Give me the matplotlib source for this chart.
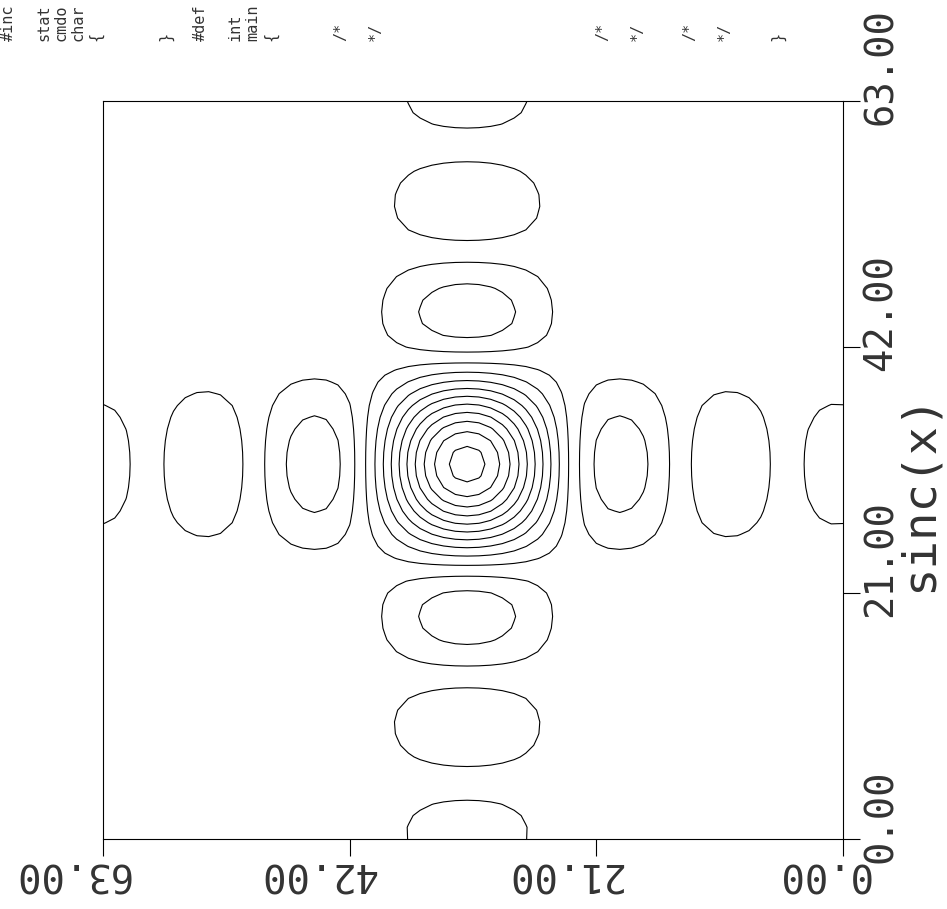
import matplotlib
matplotlib.use('Agg')
import matplotlib.pyplot as plt
import matplotlib.transforms as mtransforms
import numpy as np

# grid and function (sinc(x)*sinc(y) sampled on a 64x64 grid)
n_points = 64
center = 32
arg_scale = 0.347
levels = [-0.15, -0.05, 0.05, 0.15, 0.25, 0.35, 0.45, 0.55, 0.65, 0.75, 0.85, 0.95]

tick_values = [0, 21, 42, 63]
tick_labels = ['0.00', '21.00', '42.00', '63.00']
title = 'sinc(x)'

# fragments of the program listing printed along the top edge
code_lines = ['#inc', '', 'stat', 'cmdo', 'char', '{', '', '', '', '}', '', '#def', '',
              'int', 'main', '{', '', '', '', '/*', '', '*/', '', '', '', '', '', '', '',
              '', '', '', '', '', '/*', '', '*/', '', '', '/*', '', '*/', '', '', '}']


def sinc(u):
    out = np.ones_like(u)
    nz = u != 0
    out[nz] = np.sin(u[nz]) / u[nz]
    return out


idx = np.arange(n_points, dtype=float)
X, Y = np.meshgrid(idx, idx)
Z = sinc(arg_scale * (X - center)) * sinc(arg_scale * (Y - center))

fig = plt.figure(figsize=(9.47, 9.09), dpi=100)
ax = fig.add_axes([103 / 947, 70 / 909, 740 / 947, 738 / 909])
ax.contour(X, Y, Z, levels=levels, colors='k', linewidths=0.8, linestyles='solid')
ax.set_xlim(63, 0)
ax.set_ylim(0, 63)
for sp in ax.spines.values():
    sp.set_linewidth(0.8)

# ticks: out on bottom and right only, labels drawn by hand (rotated page)
ax.set_xticks(tick_values)
ax.set_yticks(tick_values)
ax.tick_params(axis='x', bottom=True, top=False, labelbottom=False, direction='out',
               length=12.5, width=0.8)
ax.tick_params(axis='y', left=False, right=True, labelleft=False, labelright=False,
               direction='out', length=12.5, width=0.8)

mono = 'DejaVu Sans Mono'
tx = mtransforms.offset_copy(ax.get_xaxis_transform(), fig=fig, x=26, y=-24, units='dots')
for v, s in zip(tick_values, tick_labels):
    ax.text(v, 0, s, transform=tx, rotation=180, rotation_mode='anchor',
            ha='left', va='baseline', fontsize=28, family=mono, color='#333')

ty = mtransforms.offset_copy(ax.get_yaxis_transform(), fig=fig, x=49, y=-24, units='dots')
for v, s in zip(tick_values, tick_labels):
    ax.text(1, v, s, transform=ty, rotation=90, rotation_mode='anchor',
            ha='left', va='baseline', fontsize=28, family=mono, color='#333')

# title on the right, reading upwards
fig.text(932 / 947, 1 - 492 / 909, title, rotation=90, rotation_mode='anchor',
         ha='center', va='baseline', fontsize=34, family=mono, color='#333')

# listing fragments, one column per line
for k, line in enumerate(code_lines):
    if not line:
        continue
    xpix = 13 + 17.47 * k
    fig.text(xpix / 947, 1 - 41 / 909, line, rotation=90, rotation_mode='anchor',
             ha='left', va='baseline', fontsize=11, family=mono, color='#333')

fig.savefig('out.png', dpi=100)
